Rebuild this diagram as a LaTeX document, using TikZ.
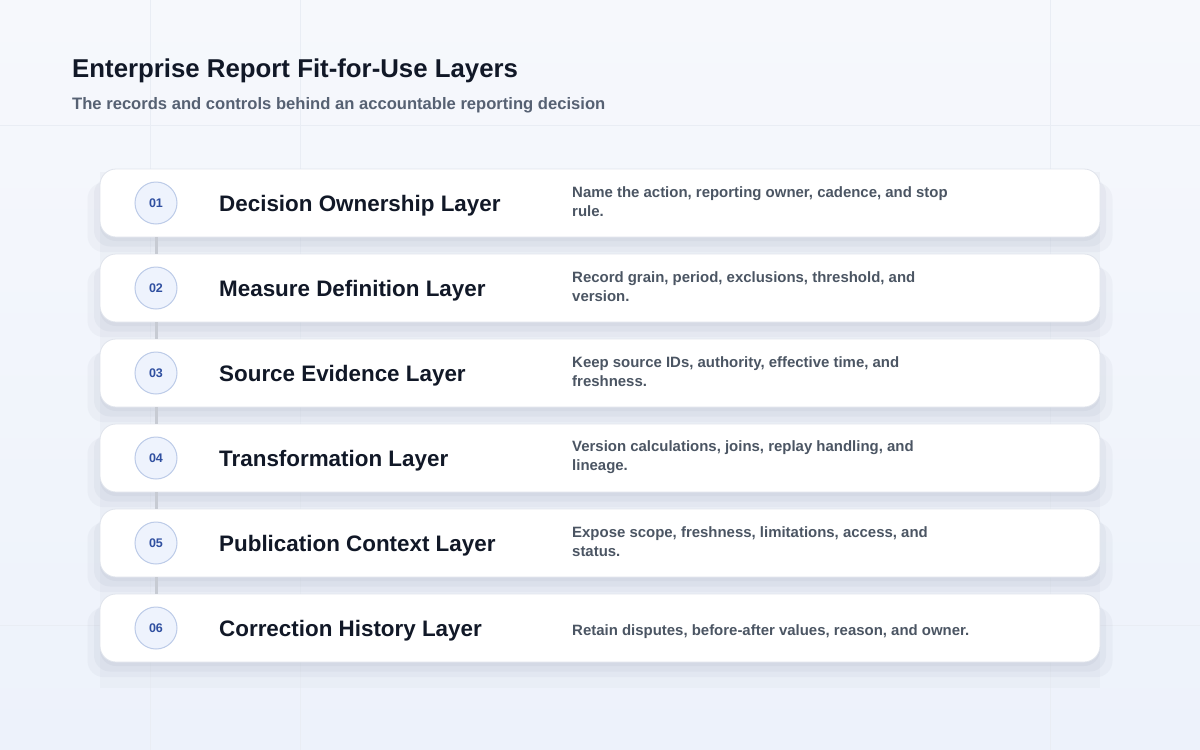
\documentclass[tikz,border=0pt]{standalone}
\usepackage{fontspec}
\setmainfont{Liberation Sans}
\usetikzlibrary{shadows}

\definecolor{bgtop}{HTML}{F6F8FC}
\definecolor{bgbot}{HTML}{EDF2FB}
\definecolor{gridline}{HTML}{E9EDF4}
\definecolor{panelfill}{HTML}{E3E7EF}
\definecolor{cardline}{HTML}{E0E4EC}
\definecolor{shadowcol}{HTML}{6B7794}
\definecolor{ink}{HTML}{111827}
\definecolor{slate}{HTML}{4B5563}
\definecolor{subgray}{HTML}{566173}
\definecolor{badgefill}{HTML}{EEF3FD}
\definecolor{badgeline}{HTML}{BCCBE8}
\definecolor{badgetext}{HTML}{2F4FA0}
\definecolor{linkgray}{HTML}{C7CBD3}

\tikzset{
  card/.style={draw=cardline, line width=0.8pt, fill=white, rounded corners=16pt,
    minimum width=1000pt, minimum height=68pt, inner sep=0pt,
    drop shadow={shadow xshift=0pt, shadow yshift=-14pt, shadow scale=1.025, opacity=0.05, fill=shadowcol},
    drop shadow={shadow xshift=0pt, shadow yshift=-9pt, shadow scale=1.012, opacity=0.06, fill=shadowcol},
    drop shadow={shadow xshift=0pt, shadow yshift=-4pt, opacity=0.06, fill=shadowcol}},
  badge/.style={circle, draw=badgeline, line width=1pt, fill=badgefill, minimum size=42pt,
    inner sep=0pt, text=badgetext, font=\bfseries\fontsize{12.5}{14}\selectfont},
  layertitle/.style={anchor=west, inner sep=0pt, text=ink, font=\bfseries\fontsize{22.4}{26}\selectfont},
  layerdesc/.style={anchor=west, inner sep=0pt, align=left, text=slate, font=\bfseries\fontsize{14.95}{19}\selectfont},
  link/.style={draw=linkgray, line width=3pt}
}

\begin{document}
\begin{tikzpicture}[x=1pt, y=-1pt]
  % Background
  \useasboundingbox (0,0) rectangle (1200,750);
  \shade[top color=bgtop, bottom color=bgbot] (0,0) rectangle (1200,750);
  \draw[gridline] (150,0) -- (150,750);
  \draw[gridline] (300,0) -- (300,750);
  \draw[gridline] (1050,0) -- (1050,750);
  \draw[gridline] (0,125) -- (1200,125);
  \draw[gridline] (0,625) -- (1200,625);
  \fill[panelfill, opacity=0.4] (100,172) rectangle (1100,688);

  % Heading
  \node[anchor=base west, inner sep=0pt, text=ink, font=\bfseries\fontsize{25.8}{30}\selectfont]
    (heading) at (72,77) {Enterprise Report Fit-for-Use Layers};
  \node[anchor=base west, inner sep=0pt, text=subgray, font=\bfseries\fontsize{16.6}{20}\selectfont]
    (subheading) at (72,109.5) {The records and controls behind an accountable reporting decision};

  % Layer 1
  \node[card] (card1) at (600,203) {};
  \node[badge] (num1) at (156,203) {01};
  \node[layertitle] (title1) at (219,206) {Decision Ownership Layer};
  \node[layerdesc] (desc1) at (572,202) {Name the action, reporting owner, cadence, and stop\\rule.};

  % Layer 2
  \node[card] (card2) at (600,288) {};
  \node[badge] (num2) at (156,288) {02};
  \node[layertitle] (title2) at (219,291) {Measure Definition Layer};
  \node[layerdesc] (desc2) at (572,287) {Record grain, period, exclusions, threshold, and\\version.};

  % Layer 3
  \node[card] (card3) at (600,373) {};
  \node[badge] (num3) at (156,373) {03};
  \node[layertitle] (title3) at (219,376) {Source Evidence Layer};
  \node[layerdesc] (desc3) at (572,372) {Keep source IDs, authority, effective time, and\\freshness.};

  % Layer 4
  \node[card] (card4) at (600,458) {};
  \node[badge] (num4) at (156,458) {04};
  \node[layertitle] (title4) at (219,461) {Transformation Layer};
  \node[layerdesc] (desc4) at (572,457) {Version calculations, joins, replay handling, and\\lineage.};

  % Layer 5
  \node[card] (card5) at (600,543) {};
  \node[badge] (num5) at (156,543) {05};
  \node[layertitle] (title5) at (219,546) {Publication Context Layer};
  \node[layerdesc] (desc5) at (572,542) {Expose scope, freshness, limitations, access, and\\status.};

  % Layer 6
  \node[card] (card6) at (600,628) {};
  \node[badge] (num6) at (156,628) {06};
  \node[layertitle] (title6) at (219,631) {Correction History Layer};
  \node[layerdesc] (desc6) at (572,632) {Retain disputes, before-after values, reason, and owner.};

  % Links between layers
  \draw[link] (num1 |- card1.south) -- (num2 |- card2.north);
  \draw[link] (num2 |- card2.south) -- (num3 |- card3.north);
  \draw[link] (num3 |- card3.south) -- (num4 |- card4.north);
  \draw[link] (num4 |- card4.south) -- (num5 |- card5.north);
  \draw[link] (num5 |- card5.south) -- (num6 |- card6.north);
\end{tikzpicture}
\end{document}
